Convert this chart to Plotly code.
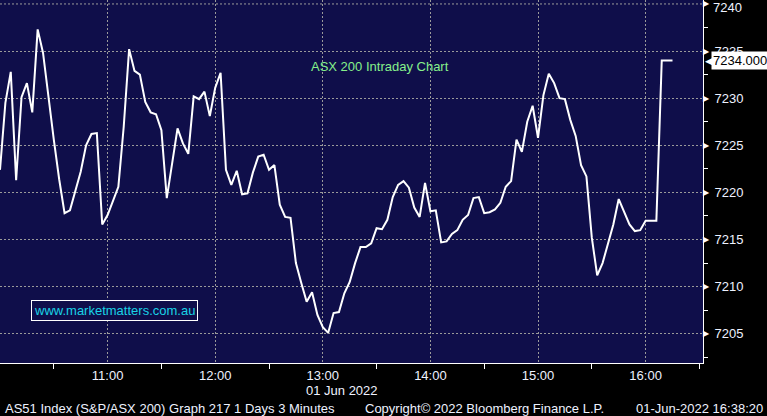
import plotly.graph_objects as go
import pandas as pd

# ASX 200 (AS51) 3-minute closes, 01 Jun 2022, from 10:00
values = [
    7222.4, 7229.5, 7232.8, 7221.3, 7230.1, 7231.6, 7228.5, 7237.3, 7234.8, 7230.1,
    7225.6, 7221.4, 7217.8, 7218.1, 7220.3, 7222.2, 7225.0, 7226.2, 7226.3, 7216.6,
    7217.6, 7219.2, 7220.6, 7227.0, 7235.2, 7232.9, 7232.5, 7229.6, 7228.5, 7228.3,
    7226.6, 7219.4, 7223.1, 7226.8, 7225.2, 7224.1, 7230.2, 7229.9, 7230.7, 7228.1,
    7231.1, 7232.7, 7222.4, 7220.8, 7222.3, 7219.8, 7219.9, 7222.1, 7223.8, 7224.0,
    7222.4, 7222.9, 7218.7, 7217.4, 7217.3, 7212.5, 7210.4, 7208.4, 7209.4, 7207.0,
    7205.7, 7205.1, 7207.2, 7207.3, 7209.3, 7210.5, 7212.5, 7214.2, 7214.2, 7214.6,
    7216.2, 7216.1, 7217.1, 7219.5, 7220.8, 7221.2, 7220.5, 7218.4, 7217.4, 7221.0,
    7218.0, 7218.1, 7214.7, 7214.8, 7215.6, 7216.0, 7217.1, 7217.6, 7219.4, 7219.5,
    7217.8, 7217.9, 7218.2, 7218.9, 7220.6, 7221.2, 7225.6, 7224.3, 7227.5, 7229.2,
    7225.8, 7230.3, 7232.6, 7231.6, 7230.0, 7229.9, 7227.7, 7226.0, 7222.9, 7221.7,
    7215.2, 7211.2, 7212.5, 7214.6, 7216.6, 7219.3, 7218.0, 7216.6, 7215.9, 7216.0,
    7217.0, 7217.0, 7217.0, 7234.0, 7234.0, 7234.0,
]
start_time = "2022-06-01 10:00"
times = pd.date_range(start_time, periods=len(values), freq="3min")

x_range = ["2022-06-01 10:00", "2022-06-01 16:32"]
y_range = [7201.9, 7240.42]

hour_ticks = ["2022-06-01 %02d:00" % h for h in range(10, 17)]
hour_labels = ["", "11:00", "12:00", "13:00", "14:00", "15:00", "16:00"]
half_ticks = ["2022-06-01 %02d:30" % h for h in range(10, 17)]
y_ticks = [7205, 7210, 7215, 7220, 7225, 7230, 7235]
y_top_tick = 7240
y_minor = [7202.5, 7207.5, 7212.5, 7217.5, 7222.5, 7227.5, 7232.5, 7237.5]
last_value = 7234.0

FONT = "Liberation Sans"
BG = "#0f0e4a"
GRID = "#9a9a9a"
TXT = "#eef2ff"

fig = go.Figure()
fig.add_trace(go.Scatter(
    x=times, y=values, mode="lines",
    line=dict(color="white", width=2),
    hoverinfo="skip", showlegend=False,
))

fig.update_layout(
    width=767, height=416,
    margin=dict(l=0, r=64, t=0, b=53),
    paper_bgcolor="black", plot_bgcolor=BG,
    showlegend=False,
    font=dict(family=FONT, size=13, color="white"),
)
fig.update_xaxes(
    type="date", range=x_range,
    tickvals=hour_ticks, ticktext=hour_labels,
    ticks="", ticklen=0,
    showgrid=True, gridcolor=GRID, gridwidth=1, griddash="2px,2px",
    showline=True, linecolor="white", linewidth=1,
    tickfont=dict(family=FONT, size=13, color=TXT),
    minor=dict(tickvals=half_ticks, ticks="outside", ticklen=5, tickcolor="white", showgrid=False),
    zeroline=False,
)
fig.update_yaxes(
    side="right", range=y_range,
    tickvals=y_ticks, ticktext=[str(v) for v in y_ticks],
    ticks="outside", ticklen=8, tickcolor="rgba(0,0,0,0)",
    showgrid=True, gridcolor=GRID, gridwidth=1, griddash="2px,2px",
    showline=True, linecolor="white", linewidth=1,
    tickfont=dict(family=FONT, size=13, color=TXT),
    minor=dict(tickvals=y_minor, ticks="outside", ticklen=4, tickcolor="white", showgrid=False),
    zeroline=False,
)

# top gridline + label (plotly drops it at the very edge)
fig.add_shape(type="line", xref="paper", yref="y", x0=0, x1=1, y0=y_top_tick, y1=y_top_tick,
              line=dict(color=GRID, width=1, dash="2px,2px"), layer="below")
fig.add_annotation(xref="paper", yref="y", x=1, y=y_top_tick, text=str(y_top_tick), showarrow=False,
                   xanchor="left", yanchor="middle", xshift=8, yshift=-4,
                   font=dict(family=FONT, size=13, color=TXT))

# triangle markers on major y ticks
for v in y_ticks + [y_top_tick]:
    fig.add_annotation(xref="paper", yref="y", x=1, y=v, text="▶", showarrow=False,
                       xanchor="left", yanchor="middle", xshift=-2,
                       font=dict(family="DejaVu Sans", size=8, color="white"))

# last value tag
fig.add_annotation(xref="paper", yref="y", x=1, y=last_value, text="◀", showarrow=False,
                   xanchor="left", yanchor="middle", xshift=0,
                   font=dict(family="DejaVu Sans", size=13, color="white"))
fig.add_annotation(xref="paper", yref="y", x=1, y=last_value, text="%.3f" % last_value,
                   showarrow=False, xanchor="left", yanchor="middle", xshift=8,
                   bgcolor="white", borderpad=1,
                   font=dict(family=FONT, size=13, color="black"))

# chart title
fig.add_annotation(xref="paper", yref="paper", x=380 / 703, y=1 - 67 / 363, text="ASX 200 Intraday Chart",
                   showarrow=False, xanchor="center", yanchor="middle",
                   font=dict(family=FONT, size=13, color="#86f08a"))

# watermark
fig.add_annotation(xref="paper", yref="paper", x=115 / 703, y=1 - 310 / 363, text="www.marketmatters.com.au",
                   showarrow=False, xanchor="center", yanchor="middle",
                   bordercolor="white", borderwidth=1, borderpad=2, bgcolor=BG,
                   font=dict(family=FONT, size=13, color="#19d3e6"))

# date under axis
fig.add_annotation(xref="paper", yref="paper", x=342 / 703, y=-(391 - 363) / 363, text="01 Jun 2022",
                   showarrow=False, xanchor="center", yanchor="middle",
                   font=dict(family=FONT, size=13, color=TXT))

# footer
fig.add_annotation(xref="paper", yref="paper", x=3 / 703, y=-(408 - 363) / 363,
                   text="AS51 Index (S&P/ASX 200) Graph 217 1 Days 3 Minutes",
                   showarrow=False, xanchor="left", yanchor="middle",
                   font=dict(family=FONT, size=13, color=TXT))
fig.add_annotation(xref="paper", yref="paper", x=363 / 703, y=-(408 - 363) / 363,
                   text="Copyright© 2022 Bloomberg Finance L.P.",
                   showarrow=False, xanchor="left", yanchor="middle",
                   font=dict(family=FONT, size=13, color=TXT))
fig.add_annotation(xref="paper", yref="paper", x=765 / 703, y=-(408 - 363) / 363,
                   text="01-Jun-2022 16:38:20",
                   showarrow=False, xanchor="right", yanchor="middle",
                   font=dict(family=FONT, size=13, color=TXT))

fig.write_html("out.html", config={"displayModeBar": False},
               post_script="document.body.style.margin='0';document.body.style.background='black';")
